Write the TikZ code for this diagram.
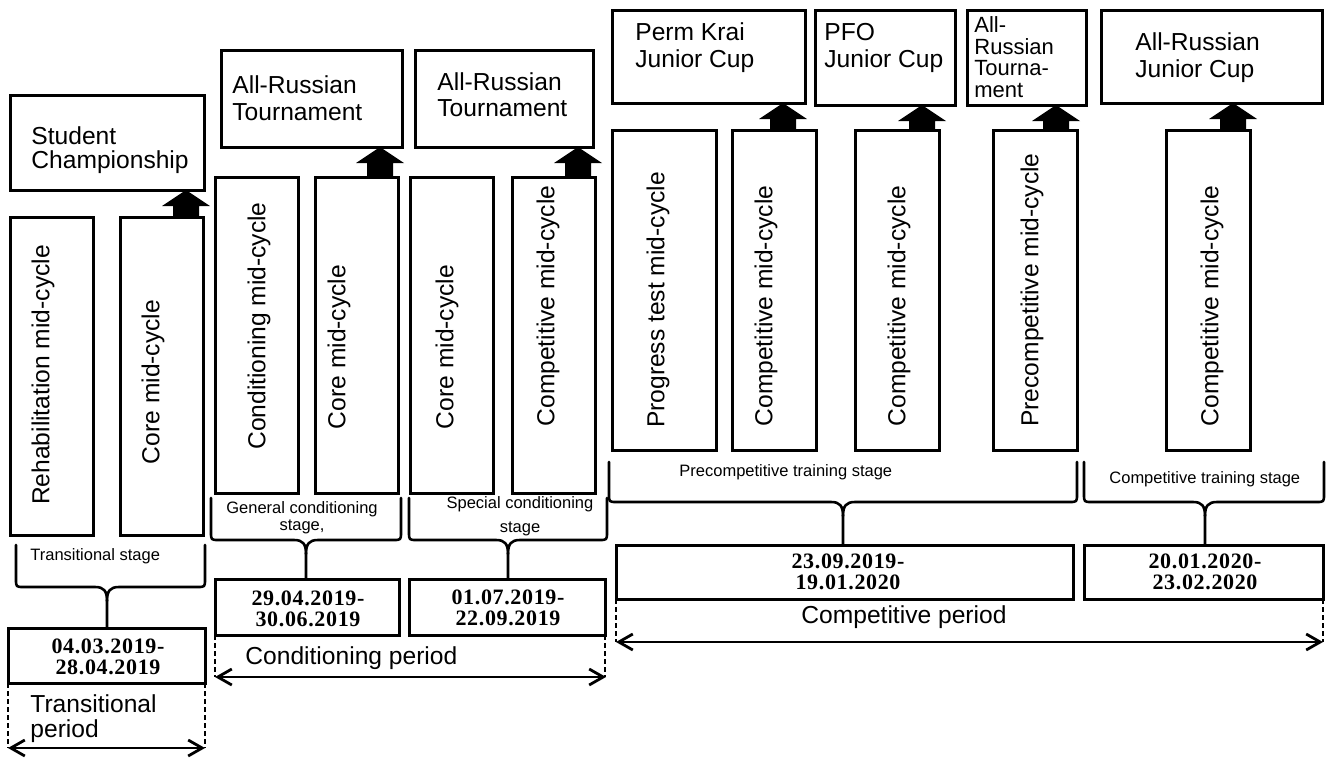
\documentclass[tikz,border=0pt]{standalone}
\usepackage{fontspec}
\setmainfont{Liberation Sans}
\newfontfamily\datefont[LetterSpace=3]{Liberation Serif}
\usetikzlibrary{calc,arrows.meta}

\tikzset{
 boxsty/.style={draw, line width=1.5pt, inner sep=0pt, outer sep=0pt},
 bigtxt/.style={font=\fontsize{12.3pt}{#1}\selectfont, inner sep=0pt, align=left},
 bigtxt/.default=13.5pt,
 vtxt/.style={font=\fontsize{12.3pt}{13.5pt}\selectfont, inner sep=0pt, rotate=90},
 smalltxt/.style={font=\fontsize{8.25pt}{#1}\selectfont, inner sep=0pt, align=center},
 smalltxt/.default=8.5pt,
 datetxt/.style={font=\datefont\bfseries\fontsize{11pt}{10.3pt}\selectfont, inner sep=0pt, align=center},
 bracesty/.style={draw, line width=1.3pt, line cap=round, line join=round},
 dashsty/.style={draw, line width=1pt, dash pattern=on 2.5pt off 1.5pt},
 periodarrow/.style={draw, line width=1.4pt, {Straight Barb[length=7pt,width=8pt]}-{Straight Barb[length=7pt,width=8pt]}},
}

\newcommand\mybox[5]{\node[boxsty, minimum width={(#4-#2)*0.5pt}, minimum height={(#5-#3)*0.5pt}] (#1) at ({(#2+#4)/2},{(#3+#5)/2}) {};}

\newcommand\bigarrow[3]{%
 \coordinate (ax) at (#3,0);
 \fill let \p1=(#1.north -| ax), \p2=(#2.south -| ax) in
  (\x1-6.5pt,\y1) -- (\x1-6.5pt,\y2-8pt) -- (\x1-12pt,\y2-8pt) -- (\p2)
  -- (\x1+12pt,\y2-8pt) -- (\x1+6.5pt,\y2-8pt) -- (\x1+6.5pt,\y1) -- cycle;}

% #1 L, #2 R, #3 top, #4 horizontal y, #5 centre x, #6 target node, #7 coordinate name
\newcommand\stagebrace[7]{%
 \coordinate (#7) at (#5,#4+14);
 \draw[bracesty] (#1,#3) -- (#1,#4-8) .. controls (#1,#4) .. (#1+8,#4) -- (#5-12,#4)
   .. controls (#5-3,#4) and (#5,#4+4) .. (#7) -- (#7 |- #6.north);
 \draw[bracesty] (#2,#3) -- (#2,#4-8) .. controls (#2,#4) .. (#2-8,#4) -- (#5+12,#4)
   .. controls (#5+3,#4) and (#5,#4+4) .. (#7);}

\begin{document}
\begin{tikzpicture}[x=0.5pt,y=-0.5pt]
\path[use as bounding box, fill=white] (0,0) rectangle (1333,757);

% ---------- boxes ----------
\mybox{sc}{10}{95}{204}{190}
\mybox{rehab}{10}{217}{93}{535}
\mybox{core1}{120}{217}{203}{535}
\mybox{art1}{221}{50}{402}{147}
\mybox{cond}{215}{177}{298}{493}
\mybox{core2}{315}{177}{398}{493}
\mybox{art2}{415}{50}{593}{147}
\mybox{core3}{410}{177}{493}{493}
\mybox{comp3}{512}{177}{595}{493}
\mybox{perm}{612}{10}{805}{103}
\mybox{pfo}{815}{10}{955}{105}
\mybox{art3}{967}{10}{1086}{105}
\mybox{arjc}{1101}{10}{1322}{103}
\mybox{prog}{612}{130}{716}{450}
\mybox{comp4}{732}{130}{816}{450}
\mybox{comp5}{855}{130}{939}{450}
\mybox{precomp}{993}{130}{1077}{450}
\mybox{comp6}{1166}{130}{1250}{450}
\mybox{d1}{8}{628}{205}{683}
\mybox{d2}{215}{579}{399}{635}
\mybox{d3}{409}{579}{605}{635}
\mybox{d4}{616}{545}{1073}{599}
\mybox{d5}{1084}{545}{1323}{599}

% ---------- competition texts ----------
\node[bigtxt=12pt, anchor=west] (tsc) at (31,150) {Student\\Championship};
\node[bigtxt=13.5pt, anchor=west] (tart1) at (232,98) {All-Russian\\Tournament};
\node[bigtxt=13pt, anchor=west] (tart2) at (437,95) {All-Russian\\Tournament};
\node[bigtxt=13.5pt, anchor=west] (tperm) at (635,48) {Perm Krai\\Junior Cup};
\node[bigtxt=13.5pt, anchor=west] (tpfo) at (824,48) {PFO\\Junior Cup};
\node[font=\fontsize{11pt}{10.8pt}\selectfont, inner sep=0pt, align=left, anchor=west] (tart3) at (974,57) {All-\\Russian\\Tourna-\\ment};
\node[bigtxt=13.5pt, anchor=west] (tarjc) at (1135,58) {All-Russian\\Junior Cup};

% ---------- mid-cycle texts ----------
\node[vtxt] (trehab) at (43,375) {Rehabilitation mid-cycle};
\node[vtxt] (tcore1) at (153,382) {Core mid-cycle};
\node[vtxt] (tcond) at (259,326) {Conditioning mid-cycle};
\node[vtxt] (tcore2) at (339,347) {Core mid-cycle};
\node[vtxt] (tcore3) at (447,347) {Core mid-cycle};
\node[vtxt] (tcomp3) at (548,306) {Competitive mid-cycle};
\node[vtxt] (tprog) at (658,300) {Progress test mid-cycle};
\node[vtxt] (tcomp4) at (766,306) {Competitive mid-cycle};
\node[vtxt] (tcomp5) at (899,306) {Competitive mid-cycle};
\node[vtxt] (tprecomp) at (1032,290) {Precompetitive mid-cycle};
\node[vtxt] (tcomp6) at (1212,306) {Competitive mid-cycle};

% ---------- block arrows ----------
\bigarrow{core1}{sc}{186}
\bigarrow{core2}{art1}{380}
\bigarrow{comp3}{art2}{578}
\bigarrow{comp4}{perm}{783}
\bigarrow{comp5}{pfo}{922}
\bigarrow{precomp}{art3}{1056}
\bigarrow{comp6}{arjc}{1233}

% ---------- braces ----------
\stagebrace{16}{205}{545}{587}{107}{d1}{b1}
\stagebrace{211}{401}{498}{540}{306}{d2}{b2}
\stagebrace{409}{607}{498}{540}{508}{d3}{b3}
\stagebrace{609}{1077}{462}{502}{843}{d4}{b4}
\stagebrace{1084}{1324}{462}{502}{1205}{d5}{b5}

% ---------- stage labels ----------
\node[smalltxt, anchor=west] (ltrans) at (30,556) {Transitional stage};
\node[smalltxt=8.5pt] (lgen) at (302,518) {General conditioning\\stage,};
\node[smalltxt=12pt] (lspec) at (520,516) {Special conditioning\\stage};
\node[smalltxt, anchor=west] (lprecomp) at (679,472) {Precompetitive training stage};
\node[smalltxt, anchor=west] (lcomp) at (1109,479) {Competitive training stage};

% ---------- dates ----------
\node[datetxt] (td1) at (108,657) {04.03.2019-\\28.04.2019};
\node[datetxt] (td2) at (308,609) {29.04.2019-\\30.06.2019};
\node[datetxt] (td3) at (508,608) {01.07.2019-\\22.09.2019};
\node[datetxt] (td4) at (848,572) {23.09.2019-\\19.01.2020};
\node[datetxt] (td5) at (1205,572) {20.01.2020-\\23.02.2020};

% ---------- periods ----------
\coordinate (p1L) at (8,748);
\coordinate (p1R) at (205,748);
\draw[dashsty] (d1.south west) -- (d1.south west |- p1L);
\draw[dashsty] (d1.south east) -- (d1.south east |- p1R);
\draw[periodarrow] (p1L) -- (p1R);
\node[bigtxt=12.5pt, anchor=west] (ptrans) at (30,719) {Transitional\\period};

\coordinate (p2L) at (215,677);
\coordinate (p2R) at (606,677);
\draw[dashsty] (d2.south west) -- (d2.south west |- p2L);
\draw[dashsty] (d3.south east) -- (d3.south east |- p2R);
\draw[periodarrow] (p2L) -- (p2R);
\node[bigtxt, anchor=west] (pcond) at (245,658) {Conditioning period};

\coordinate (p3L) at (616,642);
\coordinate (p3R) at (1323,642);
\draw[dashsty] (d4.south west) -- (d4.south west |- p3L);
\draw[dashsty] (d5.south east) -- (d5.south east |- p3R);
\draw[periodarrow] (p3L) -- (p3R);
\node[bigtxt, anchor=west] (pcomp) at (801,617) {Competitive period};
\end{tikzpicture}
\end{document}
